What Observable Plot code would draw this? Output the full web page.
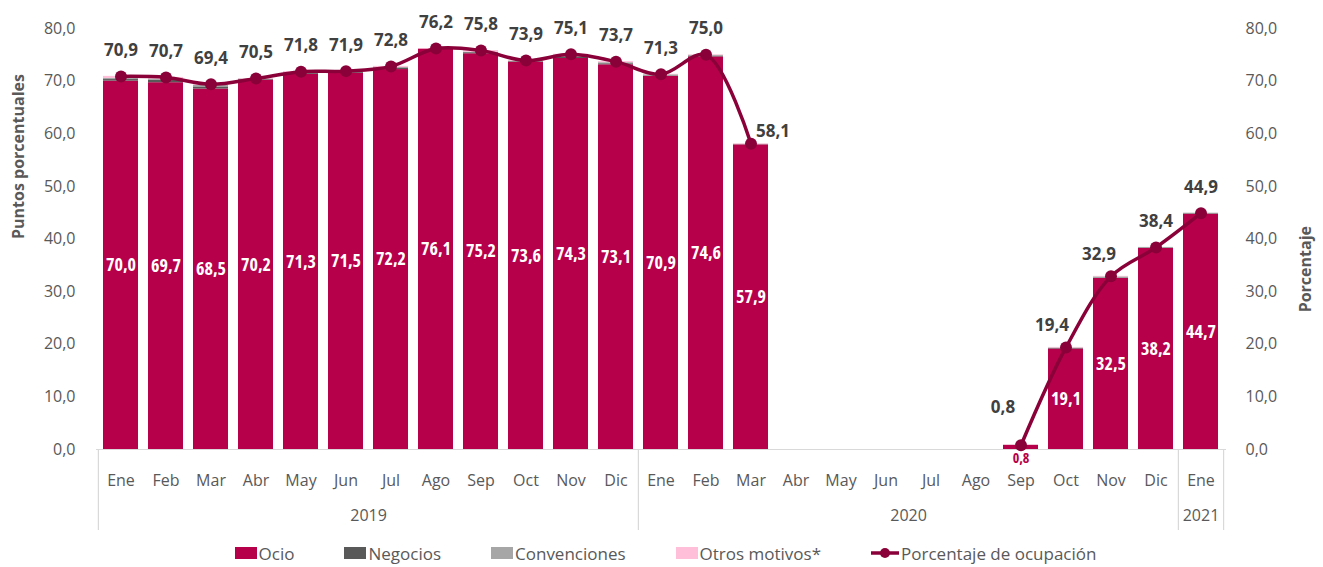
<!DOCTYPE html>
<html>
<head>
<meta charset="utf-8">
<script src="https://cdn.jsdelivr.net/npm/d3@7"></script>
<script src="https://cdn.jsdelivr.net/npm/@observablehq/plot@0.6"></script>
<style>
  body { margin: 0; background: #fff; font-family: "Open Sans", sans-serif; }
  #chart { width: 1323px; }
  .inner text { font-stretch: 80%; }
  #legend { display: flex; justify-content: center; align-items: center; gap: 50px; height: 36px; font-size: 17px; color: #595959; margin-left: 8px; }
  .item { display: flex; align-items: center; gap: 2px; }
  .sw { width: 22px; height: 12px; display: inline-block; }
</style>
</head>
<body>
<div id="chart"></div>
<div id="legend"></div>
<script>
const months = ["Ene","Feb","Mar","Abr","May","Jun","Jul","Ago","Sep","Oct","Nov","Dic"];
const periodYear = [2019,2019,2019,2019,2019,2019,2019,2019,2019,2019,2019,2019,
                    2020,2020,2020,2020,2020,2020,2020,2020,2020,2020,2020,2020,2021];
const periodMonth = [...months, ...months, "Ene"];
const ocio =         [70.0,69.7,68.5,70.2,71.3,71.5,72.2,76.1,75.2,73.6,74.3,73.1,70.9,74.6,57.9,null,null,null,null,null,0.8,19.1,32.5,38.2,44.7];
const negocios =     [0.3,0.5,0.4,0.1,0.2,0.2,0.2,0.0,0.2,0.1,0.3,0.2,0.1,0.1,0.0,null,null,null,null,null,0.0,0.1,0.1,0.1,0.1];
const convenciones = [0.2,0.2,0.3,0.1,0.1,0.1,0.2,0.0,0.1,0.1,0.3,0.2,0.2,0.2,0.1,null,null,null,null,null,0.0,0.1,0.2,0.1,0.1];
const otros =        [0.4,0.3,0.2,0.1,0.2,0.1,0.2,0.1,0.3,0.1,0.2,0.2,0.1,0.1,0.1,null,null,null,null,null,0.0,0.1,0.1,0.0,0.0];
const ocupacion =    [70.9,70.7,69.4,70.5,71.8,71.9,72.8,76.2,75.8,73.9,75.1,73.7,71.3,75.0,58.1,null,null,null,null,null,0.8,19.4,32.9,38.4,44.9];
const yearLabels = ["2019","2020","2021"];
const yTicks = [0,10,20,30,40,50,60,70,80];

const seriesNames = ["Ocio","Negocios","Convenciones","Otros motivos*"];
const seriesColors = ["#B7004A","#595959","#A6A6A6","#FFBFD9"];
const lineName = "Porcentaje de ocupación";
const lineColor = "#8A0038";

const keys = periodYear.map((y, i) => `${y}-${periodMonth[i]}`);
const monthOf = Object.fromEntries(keys.map((k, i) => [k, periodMonth[i]]));
const fmt = v => v.toFixed(1).replace(".", ",");

const stackRows = [];
keys.forEach((k, i) => {
  [ocio, negocios, convenciones, otros].forEach((arr, s) => {
    if (arr[i] != null) stackRows.push({key: k, serie: seriesNames[s], value: arr[i]});
  });
});
const rows = keys.map((k, i) => ({key: k, ocio: ocio[i], occ: ocupacion[i] == null ? NaN : ocupacion[i]}));
const occRows = rows.filter(d => !isNaN(d.occ));

const W = 1323, H = 535, mL = 96, mR = 97, mT = 28, mB = 86;
const step = (W - mL - mR) / keys.length;

const special = {"2020-Mar": [22, -12], "2020-Sep": [-18, -38], "2020-Oct": [-14, -22], "2020-Nov": [-12, -22]};
const sepStyle = {stroke: "#D9D9D9", strokeWidth: 1.2, insetTop: 421, insetBottom: -81};
const axisText = {fontSize: 16, fill: "#595959"};

const chart = Plot.plot({
  width: W, height: H,
  marginLeft: mL, marginRight: mR, marginTop: mT, marginBottom: mB,
  style: {fontFamily: "Open Sans, sans-serif", color: "#595959", background: "#fff"},
  x: {type: "band", domain: keys, paddingInner: 0.22, paddingOuter: 0.11, axis: null},
  y: {domain: [0, 80], axis: null},
  color: {domain: seriesNames, range: seriesColors},
  marks: [
    Plot.barY(stackRows, {x: "key", y: "value", fill: "serie"}),
    Plot.ruleY([0], {stroke: "#D9D9D9", strokeWidth: 1.2}),
    Plot.axisX({tickFormat: k => monthOf[k], tickSize: 0, tickPadding: 25, label: null, ...axisText}),
    Plot.axisY({anchor: "left", ticks: yTicks, tickFormat: fmt, tickSize: 0, tickPadding: 21, label: null, ...axisText}),
    Plot.axisY({anchor: "right", ticks: yTicks, tickFormat: fmt, tickSize: 0, tickPadding: 19, label: null, ...axisText}),
    // group separators
    Plot.tickX([keys[0], keys[12], keys[24]], {x: d => d, dx: -step / 2, ...sepStyle}),
    Plot.tickX([keys[24]], {x: d => d, dx: step / 2, ...sepStyle}),
    // year labels centred in their groups
    Plot.text([yearLabels[0]], {x: () => keys[5], dx: step / 2, frameAnchor: "bottom", dy: 71, text: d => d, ...axisText}),
    Plot.text([yearLabels[1]], {x: () => keys[17], dx: step / 2, frameAnchor: "bottom", dy: 71, text: d => d, ...axisText}),
    Plot.text([yearLabels[2]], {x: () => keys[24], frameAnchor: "bottom", dy: 71, text: d => d, ...axisText}),
    // ocio labels
    Plot.text(rows.filter(d => d.ocio != null && d.ocio > 5), {x: "key", y: d => d.ocio / 2, text: d => fmt(d.ocio), fill: "white", fontWeight: "bold", fontSize: 18, className: "inner"}),
    Plot.text(rows.filter(d => d.ocio != null && d.ocio <= 5), {x: "key", y: d => 0, dy: 9, text: d => fmt(d.ocio), fill: "#B7004A", fontWeight: "bold", fontSize: 14, className: "inner"}),
    // occupancy line
    Plot.line(rows, {x: "key", y: "occ", curve: "catmull-rom", stroke: lineColor, strokeWidth: 3.5}),
    Plot.dot(occRows, {x: "key", y: "occ", r: 6, fill: lineColor}),
    Plot.text(occRows.filter(d => !special[d.key]), {x: "key", y: "occ", dy: -26, text: d => fmt(d.occ), fill: "#404040", fontWeight: "bold", fontSize: 17}),
    ...Object.entries(special).map(([k, [dx, dy]]) =>
      Plot.text(occRows.filter(d => d.key === k), {x: "key", y: "occ", dx, dy, text: d => fmt(d.occ), fill: "#404040", fontWeight: "bold", fontSize: 17})),
    // axis titles
    Plot.text(["Puntos porcentuales"], {frameAnchor: "left", dx: -78, rotate: -90, fontWeight: "bold", fontSize: 16, fill: "#595959"}),
    Plot.text(["Porcentaje"], {frameAnchor: "right", dx: 79, dy: -13, rotate: -90, fontWeight: "bold", fontSize: 16, fill: "#595959"})
  ]
});
document.getElementById("chart").appendChild(chart);

const leg = document.getElementById("legend");
seriesNames.forEach((n, i) => {
  const it = document.createElement("div"); it.className = "item";
  it.innerHTML = `<span class="sw" style="background:${seriesColors[i]}"></span><span>${n}</span>`;
  leg.appendChild(it);
});
const li = document.createElement("div"); li.className = "item";
li.innerHTML = `<svg width="28" height="12"><line x1="0" x2="28" y1="6" y2="6" stroke="${lineColor}" stroke-width="3.5"/><circle cx="14" cy="6" r="5" fill="${lineColor}"/></svg><span>${lineName}</span>`;
leg.appendChild(li);
</script>
</body>
</html>
